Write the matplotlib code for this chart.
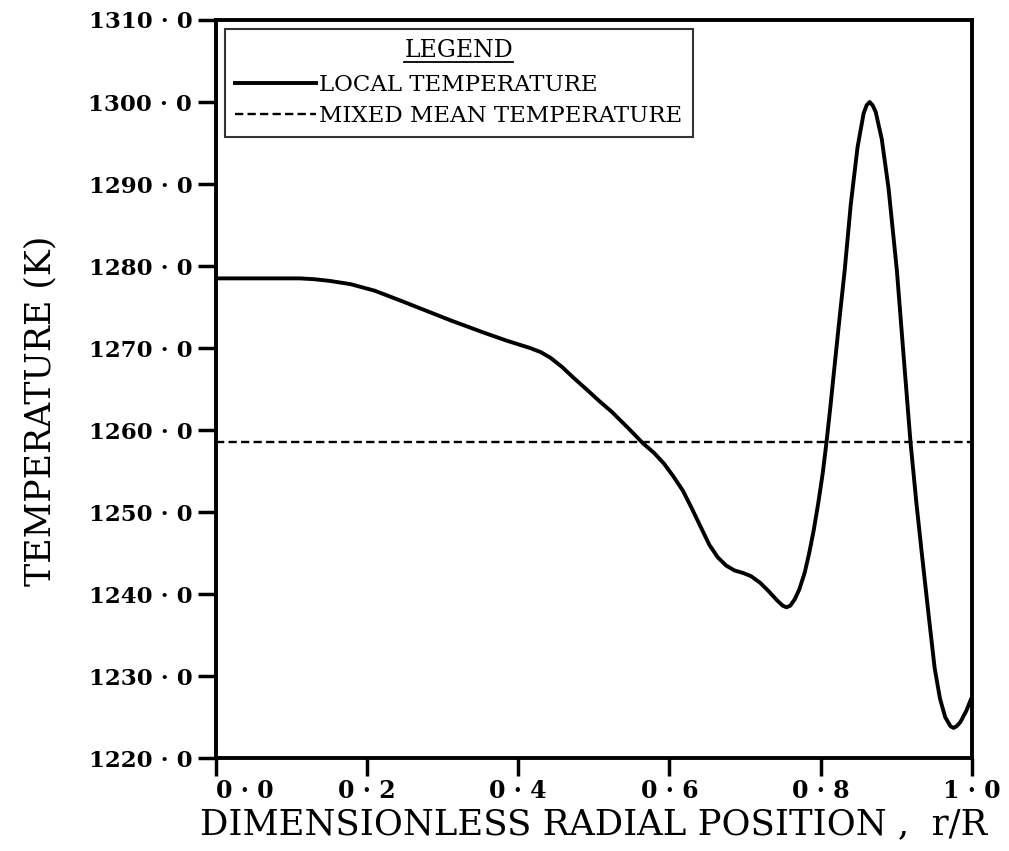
import numpy as np
import matplotlib.pyplot as plt
from matplotlib.lines import Line2D

plt.rcParams['font.family'] = ['DejaVu Serif']

# Local temperature profile (r/R, K)
r_local = [0.000, 0.060, 0.111, 0.130, 0.150, 0.178, 0.210, 0.244, 0.277,
           0.310, 0.354, 0.385, 0.416, 0.430, 0.443, 0.458, 0.473, 0.490,
           0.509, 0.523, 0.545, 0.565, 0.580, 0.593, 0.605, 0.618, 0.630,
           0.642, 0.653, 0.664, 0.675, 0.686, 0.697, 0.708, 0.720, 0.731,
           0.743, 0.750, 0.755, 0.760, 0.766, 0.772, 0.779, 0.785, 0.791,
           0.797, 0.803, 0.808, 0.813, 0.818, 0.825, 0.832, 0.840, 0.849,
           0.857, 0.861, 0.865, 0.869, 0.873, 0.881, 0.890, 0.901, 0.910,
           0.919, 0.927, 0.934, 0.943, 0.951, 0.958, 0.965, 0.972, 0.976,
           0.980, 0.985, 0.993, 1.000]
t_local = [1278.5, 1278.5, 1278.5, 1278.4, 1278.2, 1277.8, 1277.0, 1275.8,
           1274.6, 1273.4, 1271.9, 1270.9, 1270.0, 1269.5, 1268.8, 1267.7,
           1266.4, 1265.0, 1263.4, 1262.3, 1260.3, 1258.4, 1257.2, 1255.9,
           1254.4, 1252.6, 1250.4, 1248.1, 1246.0, 1244.5, 1243.5, 1242.9,
           1242.6, 1242.2, 1241.4, 1240.4, 1239.2, 1238.6, 1238.4, 1238.6,
           1239.4, 1240.6, 1242.6, 1245.0, 1247.8, 1251.1, 1254.8, 1258.6,
           1262.8, 1267.3, 1273.5, 1279.5, 1287.5, 1294.5, 1298.6, 1299.6,
           1300.0, 1299.6, 1298.8, 1295.5, 1289.5, 1279.5, 1269.0, 1258.6,
           1251.0, 1245.0, 1237.5, 1231.0, 1227.3, 1225.0, 1223.9, 1223.7,
           1223.9, 1224.4, 1225.8, 1227.4]

# Mixed mean temperature
r_mean = [0.0, 1.0]
t_mean = [1258.6, 1258.6]

x_ticks = [0.0, 0.2, 0.4, 0.6, 0.8, 1.0]
x_ticklabels = ['0 · 0', '0 · 2', '0 · 4', '0 · 6', '0 · 8', '1 · 0']
y_ticks = [1220, 1230, 1240, 1250, 1260, 1270, 1280, 1290, 1300, 1310]
y_ticklabels = [f'{v} · 0' for v in y_ticks]

fig = plt.figure(figsize=(10.09, 8.51), dpi=100)
ax = fig.add_axes([0.214, 0.109, 0.749, 0.8675])

ax.plot(r_local, t_local, color='black', lw=2.8, label='LOCAL TEMPERATURE')
ax.plot(r_mean, t_mean, color='black', lw=1.7, dashes=(3.5, 1.8),
        label='MIXED MEAN TEMPERATURE')

ax.set_xlim(0, 1.0)
ax.set_ylim(1220, 1310)
ax.set_xticks(x_ticks)
ax.set_xticklabels(x_ticklabels, fontsize=17, fontweight='bold')
ax.get_xticklabels()[0].set_ha('left')
ax.set_yticks(y_ticks)
ax.set_yticklabels(y_ticklabels, fontsize=16.5, fontweight='bold')
ax.tick_params(direction='out', length=13, width=2.5)
ax.tick_params(axis='y', pad=4)
ax.tick_params(axis='x', pad=2)

for s in ax.spines.values():
    s.set_linewidth(2.8)

ax.set_xlabel('DIMENSIONLESS RADIAL POSITION ,  r/R', fontsize=25.5, labelpad=3)
ax.set_ylabel('TEMPERATURE (K)', fontsize=25)
ax.yaxis.set_label_coords(-0.21, 0.47)

leg = ax.legend(loc='upper left', title='LEGEND',
                fontsize=16.5, title_fontsize=17, frameon=True, fancybox=False,
                edgecolor='black', handlelength=3.5, handletextpad=0.15,
                borderaxespad=0.4, borderpad=0.45, labelspacing=0.4)
leg.get_frame().set_linewidth(1.5)
leg._legend_box.sep = 8

# underline the legend title
fig.canvas.draw()
bb = leg.get_title().get_window_extent().transformed(fig.transFigure.inverted())
fig.add_artist(Line2D([bb.x0, bb.x1], [bb.y0 + 0.001, bb.y0 + 0.001],
                      transform=fig.transFigure, color='black', lw=1.3))

fig.savefig('out.png', dpi=100)
